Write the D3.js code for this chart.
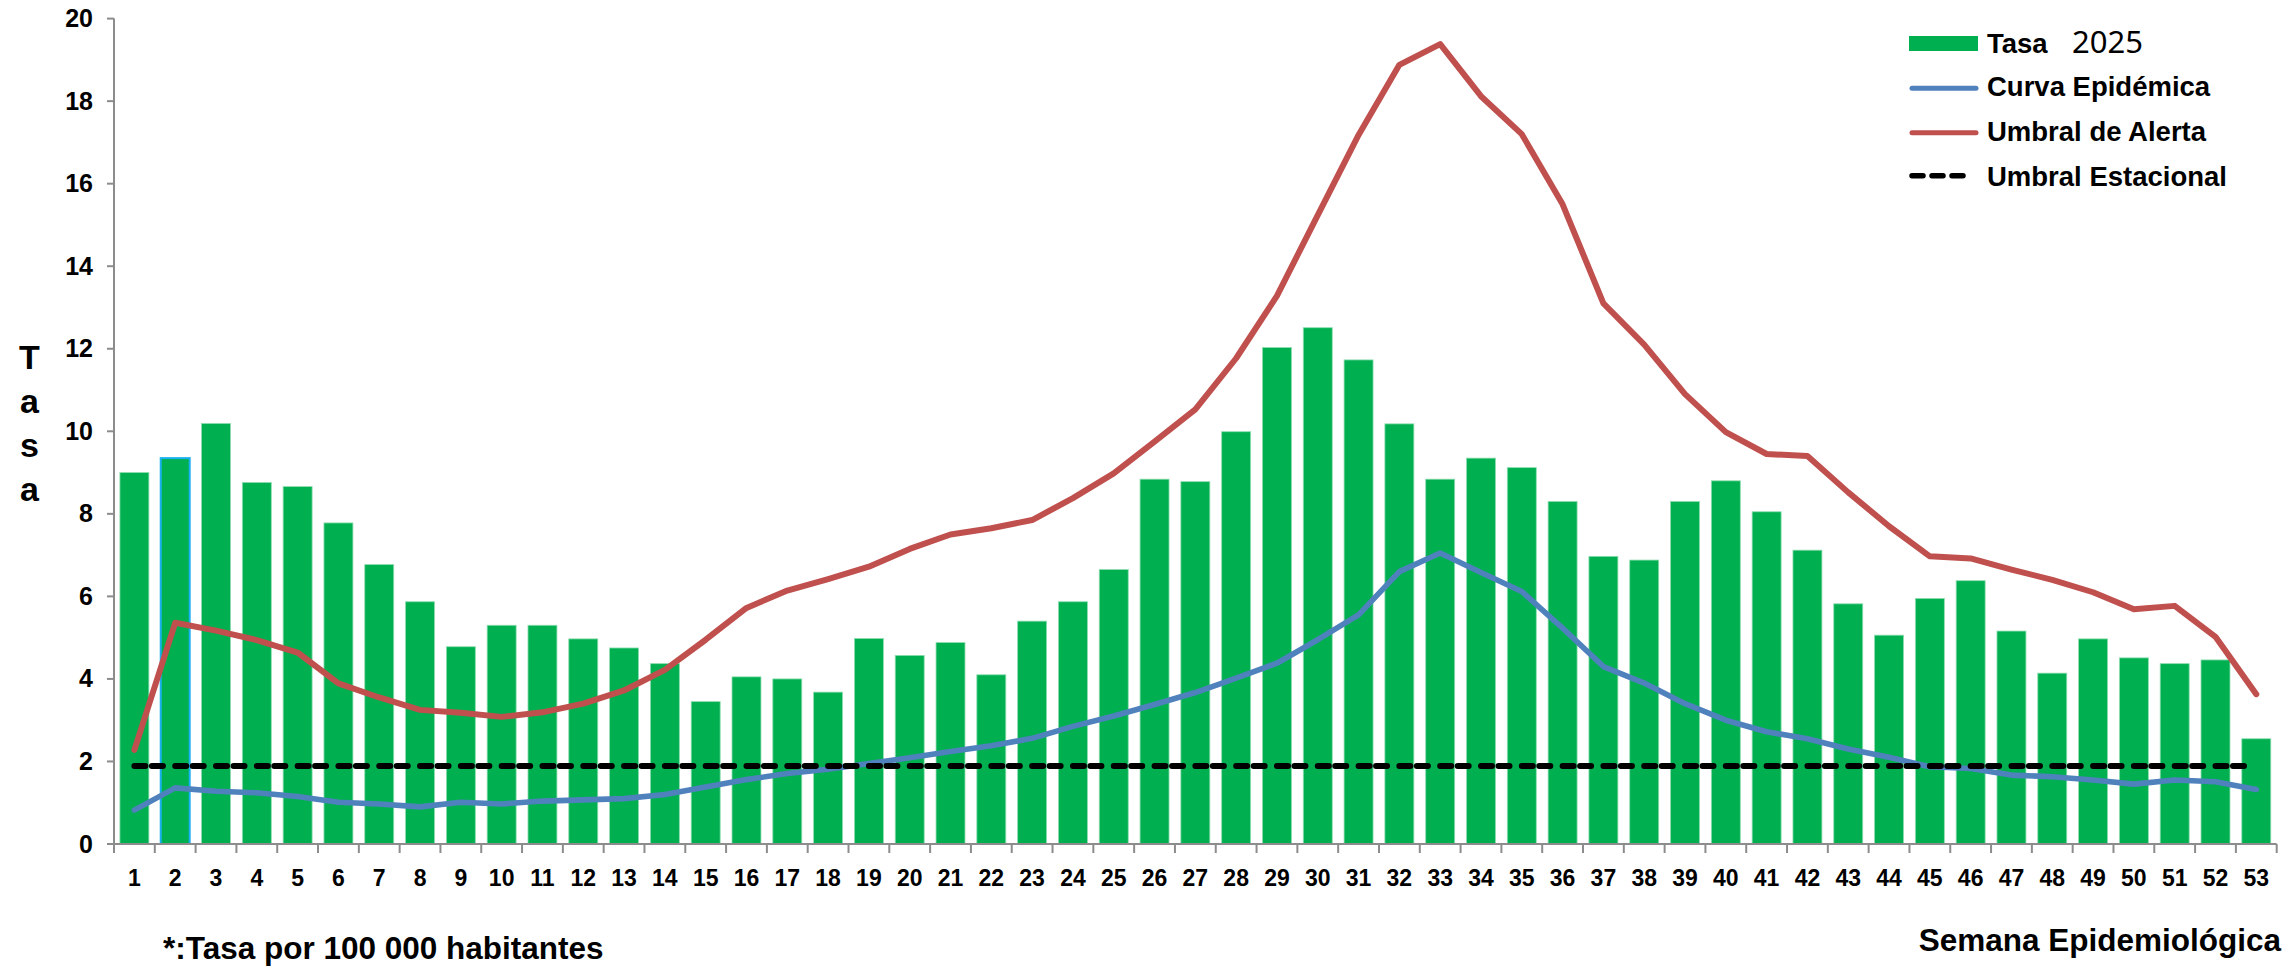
<!DOCTYPE html>
<html>
<head>
<meta charset="utf-8">
<script src="https://cdn.jsdelivr.net/npm/d3@7"></script>
<style>
  html, body { margin: 0; padding: 0; background: #fff; }
  svg { display: block; }
  text { font-family: "Liberation Sans", Arial, sans-serif; font-weight: bold; fill: #000; }
</style>
</head>
<body>
<svg id="chart" width="2290" height="966"></svg>
<script>
// ---- Data ----
const weeks = d3.range(1, 54).map(String);
const tasa2025 = [9.0, 9.35, 10.19, 8.76, 8.66, 7.78, 6.77, 5.87, 4.78, 5.30,
  5.30, 4.97, 4.75, 4.37, 3.45, 4.05, 4.0, 3.68, 4.98, 4.57,
  4.88, 4.1, 5.4, 5.87, 6.65, 8.84, 8.78, 9.99, 12.03, 12.51,
  11.73, 10.18, 8.84, 9.35, 9.12, 8.3, 6.97, 6.88, 8.3, 8.8,
  8.05, 7.12, 5.82, 5.06, 5.95, 6.38, 5.16, 4.14, 4.97, 4.51,
  4.37, 4.46, 2.55];
const curvaEpidemica = [0.82, 1.36, 1.28, 1.24, 1.15, 1.01, 0.97, 0.90, 1.01, 0.97,
  1.04, 1.07, 1.10, 1.20, 1.38, 1.56, 1.71, 1.81, 1.95, 2.09,
  2.24, 2.38, 2.56, 2.85, 3.10, 3.38, 3.67, 4.02, 4.38, 4.95,
  5.55, 6.60, 7.05, 6.58, 6.12, 5.23, 4.30, 3.90, 3.40, 3.00,
  2.72, 2.55, 2.30, 2.10, 1.87, 1.83, 1.67, 1.63, 1.55, 1.45,
  1.55, 1.51, 1.32];
const umbralAlerta = [2.28, 5.36, 5.17, 4.94, 4.64, 3.89, 3.55, 3.25, 3.18, 3.08,
  3.19, 3.40, 3.72, 4.22, 4.95, 5.72, 6.14, 6.42, 6.72, 7.15,
  7.50, 7.65, 7.85, 8.38, 8.98, 9.75, 10.53, 11.77, 13.28, 15.24,
  17.18, 18.88, 19.38, 18.12, 17.2, 15.5, 13.1, 12.1, 10.9, 9.98,
  9.45, 9.40, 8.52, 7.70, 6.97, 6.92, 6.65, 6.40, 6.10, 5.69,
  5.77, 5.02, 3.63];
const umbralEstacional = [1.89, 1.89, 1.89, 1.89, 1.89, 1.89, 1.89, 1.89, 1.89, 1.89,
  1.89, 1.89, 1.89, 1.89, 1.89, 1.89, 1.89, 1.89, 1.89, 1.89,
  1.89, 1.89, 1.89, 1.89, 1.89, 1.89, 1.89, 1.89, 1.89, 1.89,
  1.89, 1.89, 1.89, 1.89, 1.89, 1.89, 1.89, 1.89, 1.89, 1.89,
  1.89, 1.89, 1.89, 1.89, 1.89, 1.89, 1.89, 1.89, 1.89, 1.89,
  1.89, 1.89, 1.89];
const yTicks = [0, 2, 4, 6, 8, 10, 12, 14, 16, 18, 20];
const legendItems = ["Tasa", "Curva Epidémica", "Umbral de Alerta", "Umbral Estacional"];
const legendYear = "2025";
const yTitle = ["T", "a", "s", "a"];
const xTitle = "Semana Epidemiológica";
const note = "*:Tasa por 100 000 habitantes";

// ---- Layout ----
(function () {
const svg = d3.select("#chart");
const mLeft = 114, mRight = 2276.7, mTop = 18.6, mBottom = 844;
const GREEN = "#00B050", BLUE = "#4F81BD", RED = "#C0504D", AXIS = "#8C8C8C";

const x = d3.scaleBand().domain(weeks).range([mLeft, mRight]).paddingInner(0.29).paddingOuter(0.145);
const y = d3.scaleLinear().domain([0, 20]).range([mBottom, mTop]);
const cx = w => x(w) + x.bandwidth() / 2;
const step = x.step();

// Bars
svg.append("g").selectAll("rect").data(weeks).join("rect")
  .attr("x", d => x(d))
  .attr("y", (d, i) => y(tasa2025[i]))
  .attr("width", x.bandwidth())
  .attr("height", (d, i) => y(0) - y(tasa2025[i]))
  .attr("fill", GREEN)
  .attr("stroke", d => d === "2" ? "#1AB0F0" : "#8EDDB0")
  .attr("stroke-width", d => d === "2" ? 2 : 0.8);

// Lines
const line = arr => d3.line().x((d, i) => cx(weeks[i])).y(d => y(d))(arr);
svg.append("path").attr("d", line(curvaEpidemica)).attr("fill", "none")
  .attr("stroke", BLUE).attr("stroke-width", 5.6).attr("stroke-linejoin", "round").attr("stroke-linecap", "round");
svg.append("path").attr("d", line(umbralAlerta)).attr("fill", "none")
  .attr("stroke", RED).attr("stroke-width", 6).attr("stroke-linejoin", "round").attr("stroke-linecap", "round");
svg.append("path").attr("d", line(umbralEstacional)).attr("fill", "none")
  .attr("stroke", "#000").attr("stroke-width", 6).attr("stroke-linecap", "round")
  .attr("stroke-dasharray", `11 6.5 11 ${step - 28.5}`);

// Y axis
const yAxis = svg.append("g");
yAxis.append("line").attr("x1", mLeft).attr("x2", mLeft).attr("y1", y(20)).attr("y2", y(0))
  .attr("stroke", AXIS).attr("stroke-width", 2);
yAxis.selectAll("line.tick").data(yTicks).join("line").attr("class", "tick")
  .attr("x1", mLeft - 7).attr("x2", mLeft).attr("y1", d => y(d)).attr("y2", d => y(d))
  .attr("stroke", AXIS).attr("stroke-width", 2);
yAxis.selectAll("text").data(yTicks).join("text")
  .attr("x", 93).attr("y", d => y(d) + 8.5).attr("text-anchor", "end")
  .attr("font-size", 25).text(d => d);

// X axis
const xAxis = svg.append("g");
xAxis.append("line").attr("x1", mLeft).attr("x2", mRight).attr("y1", mBottom).attr("y2", mBottom)
  .attr("stroke", AXIS).attr("stroke-width", 2);
const boundaries = weeks.map(w => x(w) - (step - x.bandwidth()) / 2).concat([mRight]);
xAxis.selectAll("line.tick").data(boundaries).join("line").attr("class", "tick")
  .attr("x1", d => d).attr("x2", d => d).attr("y1", mBottom).attr("y2", mBottom + 9)
  .attr("stroke", AXIS).attr("stroke-width", 2);
xAxis.selectAll("text").data(weeks).join("text")
  .attr("x", d => cx(d)).attr("y", 886).attr("text-anchor", "middle")
  .attr("font-size", 23).text(d => d);

// Titles
const yT = [369, 413, 457, 501];
svg.append("g").selectAll("text").data(yTitle).join("text")
  .attr("x", 29.5).attr("y", (d, i) => yT[i]).attr("text-anchor", "middle")
  .attr("font-size", 34).text(d => d);
svg.append("text").attr("x", 2281).attr("y", 951).attr("text-anchor", "end")
  .attr("font-size", 31.5).text(xTitle);
svg.append("text").attr("x", 163).attr("y", 959)
  .attr("font-size", 31.5).text(note);

// Legend
const lg = svg.append("g");
const ly = [44, 88.3, 132.7, 175.7];
lg.append("rect").attr("x", 1909).attr("y", 36).attr("width", 69).attr("height", 15).attr("fill", GREEN);
lg.append("line").attr("x1", 1912).attr("x2", 1976).attr("y1", ly[1]).attr("y2", ly[1])
  .attr("stroke", BLUE).attr("stroke-width", 5).attr("stroke-linecap", "round");
lg.append("line").attr("x1", 1912).attr("x2", 1976).attr("y1", ly[2]).attr("y2", ly[2])
  .attr("stroke", RED).attr("stroke-width", 5).attr("stroke-linecap", "round");
lg.append("line").attr("x1", 1912).attr("x2", 1970).attr("y1", ly[3]).attr("y2", ly[3])
  .attr("stroke", "#000").attr("stroke-width", 5.5).attr("stroke-linecap", "round")
  .attr("stroke-dasharray", "11 9");
const lbase = [52.7, 96, 140.7, 186];
lg.selectAll("text.item").data(legendItems).join("text").attr("class", "item")
  .attr("x", 1987).attr("y", (d, i) => lbase[i]).attr("font-size", 27.5).text(d => d);
lg.append("text").attr("x", 2072).attr("y", 52.7)
  .style("font-family", "'Noto Sans', sans-serif").style("font-weight", "normal")
  .attr("font-size", 31).text(legendYear);
})();
</script>
</body>
</html>
